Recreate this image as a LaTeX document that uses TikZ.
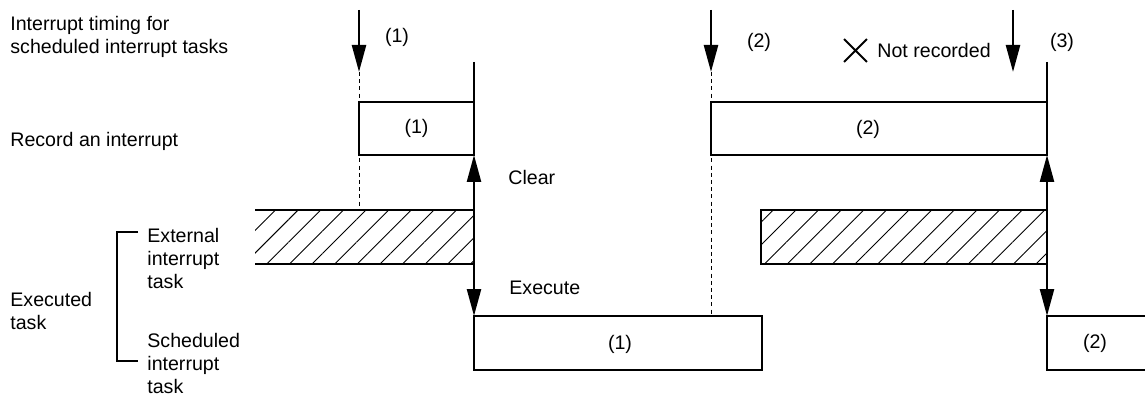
\documentclass[tikz,border=0pt]{standalone}
\usepackage{fontspec}
\setmainfont{Liberation Sans}
\usetikzlibrary{arrows.meta,patterns.meta,shapes.misc}

\tikzset{
  lbl/.style={anchor=base west, align=left, inner sep=0pt},
  box/.style={line width=1pt},
  hatch/.style={pattern={Lines[angle=45,distance=8pt,line width=0.45pt]}},
  evt/.style={line width=1.2pt, -{Triangle[width=7pt,length=13.5pt]}},
  both/.style={line width=1.2pt, {Triangle[width=7pt,length=13.5pt]}-{Triangle[width=7pt,length=13.5pt]}},
  guide/.style={line width=0.5pt, dash pattern=on 2pt off 1.6pt},
}

\begin{document}
\begin{tikzpicture}[x=0.5pt, y=-0.5pt, font=\fontsize{9.8}{11.5}\selectfont]
\useasboundingbox (0,0) rectangle (1145,395);

% row labels (base = last line)
\node[lbl] (timing) at (10,54) {Interrupt timing for\\scheduled interrupt tasks};
\node[lbl] (record) at (10,147) {Record an interrupt};
\node[lbl] (executed) at (10,329) {Executed\\task};
\node[lbl] (external) at (147,288) {External\\interrupt\\task};
\node[lbl] (scheduled) at (147,393) {Scheduled\\interrupt\\task};
\draw[line width=1.2pt] (138,232) -- (117,232) -- (117,361) -- (138,361);

% interrupt timings
\coordinate (i1) at (359,10);
\coordinate (i1e) at (359,72);
\coordinate (i2) at (711,10);
\coordinate (i2e) at (711,72);
\coordinate (i3) at (1013,10);
\coordinate (i3e) at (1013,72);
\draw[guide] (i1e) -- (359,210);
\draw[guide] (i2e) -- (711,316);
\draw[evt] (i1) -- (i1e);
\draw[evt] (i2) -- (i2e);
\draw[evt] (i3) -- (i3e);
\node (n1) at (397,37) {(1)};
\node (n2) at (759,42) {(2)};
\node (n3) at (1062,42) {(3)};
\node[cross out, draw, line width=0.9pt, minimum size=10.5pt, inner sep=0pt] (lost) at (855.5,50.5) {};
\node[lbl] (notrec) at (877,57.5) {Not recorded};

% recorded interrupts
\draw[box, fill=white] (359,102) rectangle (474,155);
\draw[box] (474,62) -- (474,102);
\node (r1) at (416.5,128.5) {(1)};
\draw[box, fill=white] (711,102) rectangle (1047,155);
\draw[box] (1047,62) -- (1047,102);
\node (r2) at (868,129) {(2)};

% executed tasks
\fill[hatch] (255,210) rectangle (474,264);
\draw[box] (255,210) -- (474,210) (255,264) -- (474,264);
\draw[box, hatch] (1047,210) -- (761,210) -- (761,264) -- (1047,264);
\draw[box] (474,316) rectangle (762,370);
\node (x1) at (620,344) {(1)};
\draw[box] (1145,316) -- (1047,316) -- (1047,370) -- (1145,370);
\node (x2) at (1095,343) {(2)};

% clear and execute
\draw[both] (474,155) -- (474,316);
\draw[both] (1047,155) -- (1047,316);
\node[lbl] (clear) at (508,185) {Clear};
\node[lbl] (execute) at (509,294) {Execute};
\end{tikzpicture}
\end{document}
